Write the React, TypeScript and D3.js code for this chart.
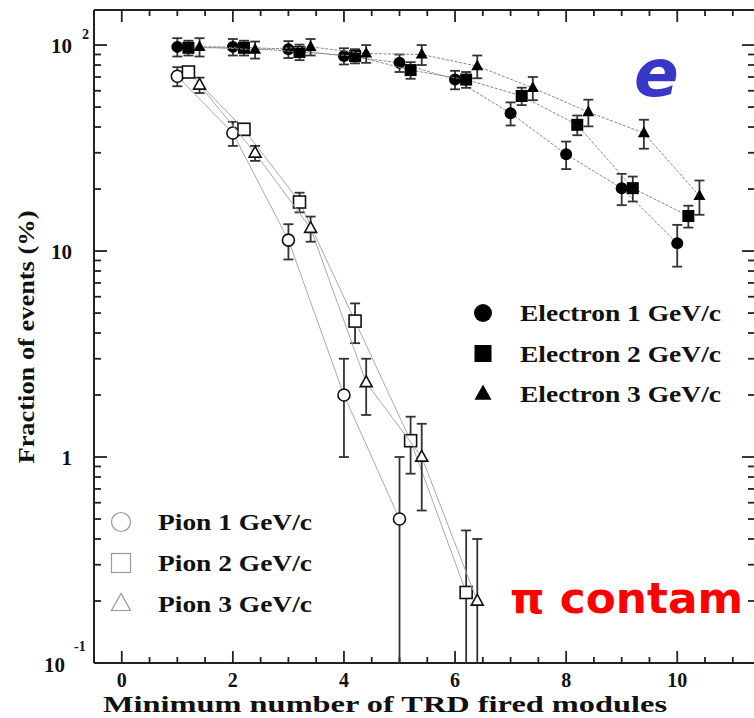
import React from "react";
import * as d3 from "d3";

// ---- data ----
const xElectron1 = [1, 2, 3, 4, 5, 6, 7, 8, 9, 10];
const electron1 = [98, 98, 95.5, 88.5, 82, 68, 46.7, 29.5, 20.2, 10.9];
const electron1Err = [10, 9, 9, 8, 8, 7, 6, 4.5, 3.5, 2.5];
const xElectron2 = [1.2, 2.2, 3.2, 4.2, 5.2, 6.2, 7.2, 8.2, 9.2, 10.2];
const electron2 = [97, 97, 92.5, 88.5, 75.6, 68, 56.6, 41, 20.2, 14.8];
const electron2Err = [8, 8, 8, 7, 7, 6, 5.5, 4.5, 2.8, 1.8];
const xElectron3 = [1.4, 2.4, 3.4, 4.4, 5.4, 6.4, 7.4, 8.4, 9.4, 10.4];
const electron3 = [98, 95, 98, 91, 90, 79, 62, 47.3, 37.4, 18.5];
const electron3Err = [10, 9, 9, 9, 10, 10, 8, 7, 6, 3.5];

const xPion1 = [1, 2, 3, 4, 5];
const pion1 = [70.6, 37.4, 11.3, 2.0, 0.5];
const pion1Err = [7.5, 5, 2.2, 1.0, 0.5];
const xPion2 = [1.2, 2.2, 3.2, 4.2, 5.2, 6.2];
const pion2 = [74, 39, 17.3, 4.57, 1.2, 0.22];
const pion2Err = [3, 2.5, 1.9, 1.0, 0.37, 0.22];
const xPion3 = [1.4, 2.4, 3.4, 4.4, 5.4, 6.4];
const pion3 = [64, 29.9, 12.9, 2.3, 1.0, 0.2];
const pion3Err = [5.5, 2.5, 1.8, 0.7, 0.45, 0.2];

const xTickLabels = [0, 2, 4, 6, 8, 10];
const electronLegend = ["Electron 1 GeV/c", "Electron 2 GeV/c", "Electron 3 GeV/c"];
const pionLegend = ["Pion 1 GeV/c", "Pion 2 GeV/c", "Pion 3 GeV/c"];

const W = 754, H = 718;
const L = 94, R = 755, T = 10, B = 663;
const x = d3.scaleLinear().domain([-0.5, 11.4]).range([L, R]);
const y = d3.scaleLog().domain([0.1, 148]).range([B, T]);

const serif = "'Liberation Serif', 'DejaVu Serif', serif";
const AX = "#222";

type Shape = "circle" | "square" | "triangle";

function Marker({ shape, cx, cy, size, filled, stroke, sw }: any) {
  const fill = filled ? "#000" : "#fff";
  if (shape === "circle")
    return <circle cx={cx} cy={cy} r={size / 2} fill={fill} stroke={stroke} strokeWidth={sw} />;
  if (shape === "square")
    return <rect x={cx - size / 2} y={cy - size / 2} width={size} height={size} fill={fill} stroke={stroke} strokeWidth={sw} />;
  const h = size * 0.9;
  const p = `M${cx},${cy - h * 0.62} L${cx + size / 2},${cy + h * 0.38} L${cx - size / 2},${cy + h * 0.38} Z`;
  return <path d={p} fill={fill} stroke={stroke} strokeWidth={sw} />;
}

function Series({ xs, ys, errs, shape, filled, dashed }: any) {
  const line = d3.line<number>().x((_, i) => x(xs[i])).y((v) => y(v));
  return (
    <g>
      <path d={line(ys) || ""} fill="none" stroke={filled ? "#8a8a8a" : "#aaa"} strokeWidth={1}
        strokeDasharray={dashed ? "3,1.5" : undefined} />
      {ys.map((v: number, i: number) => {
        const cx = x(xs[i]);
        const top = y(v + errs[i]);
        const lo = v - errs[i];
        const bot = lo > 0.1 ? y(lo) : B;
        const cap = 5;
        return (
          <g key={i} stroke="#333" strokeWidth={1.8}>
            <line x1={cx} x2={cx} y1={top} y2={bot} />
            <line x1={cx - cap} x2={cx + cap} y1={top} y2={top} />
            {lo > 0.1 && <line x1={cx - cap} x2={cx + cap} y1={bot} y2={bot} />}
          </g>
        );
      })}
      {ys.map((v: number, i: number) => (
        <Marker key={"m" + i} shape={shape} cx={x(xs[i])} cy={y(v)} size={12}
          filled={filled} stroke="#111" sw={filled ? 0 : 1.6} />
      ))}
    </g>
  );
}

export default function App() {
  const xMinor = d3.range(-0.5, 11.41, 0.5);
  const yMinor: number[] = [];
  [0.1, 1, 10].forEach((d) => { for (let k = 2; k <= 9; k++) yMinor.push(d * k); });
  const yMajor = [0.1, 1, 10, 100];
  return (
    <svg width={W} height={H} style={{ position: "absolute", left: 0, top: 0, background: "#fff" }}>
      <rect x={0} y={0} width={W} height={H} fill="#fff" />
      {/* frame */}
      <g stroke={AX} strokeWidth={2} fill="none">
        <line x1={L} x2={R} y1={B} y2={B} />
        <line x1={L} x2={R} y1={T} y2={T} />
        <line x1={L} x2={L} y1={T} y2={B} />
        <line x1={R} x2={R} y1={T} y2={B} />
      </g>
      {/* x ticks */}
      <g stroke={AX} strokeWidth={1.8}>
        {xMinor.map((t, i) => {
          const major = Math.abs(t % 2) < 1e-6;
          const len = major ? 12 : 6;
          return (
            <g key={i}>
              <line x1={x(t)} x2={x(t)} y1={B} y2={B - len} />
              <line x1={x(t)} x2={x(t)} y1={T} y2={T + len} />
            </g>
          );
        })}
        {yMajor.map((t, i) => (
          <g key={"ym" + i}>
            <line x1={L} x2={L + 13} y1={y(t)} y2={y(t)} />
            <line x1={R} x2={R - 13} y1={y(t)} y2={y(t)} />
          </g>
        ))}
        {yMinor.map((t, i) => (
          <g key={"yn" + i}>
            <line x1={L} x2={L + 7} y1={y(t)} y2={y(t)} />
            <line x1={R} x2={R - 7} y1={y(t)} y2={y(t)} />
          </g>
        ))}
      </g>
      {/* tick labels */}
      <g fontFamily={serif} fontWeight="bold" fill="#111">
        {xTickLabels.map((t) => (
          <text key={t} x={x(t)} y={687} fontSize={20} textAnchor="middle">{t}</text>
        ))}
        <text x={72} y={y(100) + 8} fontSize={21} textAnchor="end">10</text>
        <text x={82} y={y(100) - 6} fontSize={14}>2</text>
        <text x={72} y={y(10) + 8} fontSize={21} textAnchor="end">10</text>
        <text x={72} y={y(1) + 8} fontSize={21} textAnchor="end">1</text>
        <text x={65} y={B + 9} fontSize={21} textAnchor="end">10</text>
        <text x={74} y={B - 12} fontSize={14}>-1</text>
      </g>
      {/* axis titles */}
      <text x={103} y={712} fontFamily={serif} fontWeight="bold" fontSize={24} fill="#111"
        textLength={564} lengthAdjust="spacingAndGlyphs">Minimum number of TRD fired modules</text>
      <text transform="translate(34,337) rotate(-90)" fontFamily={serif} fontWeight="bold" fontSize={24}
        fill="#111" textAnchor="middle" textLength={253} lengthAdjust="spacingAndGlyphs">Fraction of events (%)</text>

      {/* data */}
      <Series xs={xPion1} ys={pion1} errs={pion1Err} shape="circle" filled={false} />
      <Series xs={xPion2} ys={pion2} errs={pion2Err} shape="square" filled={false} />
      <Series xs={xPion3} ys={pion3} errs={pion3Err} shape="triangle" filled={false} />
      <Series xs={xElectron1} ys={electron1} errs={electron1Err} shape="circle" filled dashed />
      <Series xs={xElectron2} ys={electron2} errs={electron2Err} shape="square" filled dashed />
      <Series xs={xElectron3} ys={electron3} errs={electron3Err} shape="triangle" filled dashed />

      {/* electron legend */}
      {electronLegend.map((s, i) => {
        const cy = 313 + i * 40.5;
        const shape: Shape = (["circle", "square", "triangle"] as Shape[])[i];
        return (
          <g key={s}>
            <Marker shape={shape} cx={483} cy={cy} size={i === 0 ? 18 : 17} filled stroke="#000" sw={0} />
            <text x={520} y={cy + 8} fontFamily={serif} fontWeight="bold" fontSize={24} fill="#111"
              textLength={201} lengthAdjust="spacingAndGlyphs">{s}</text>
          </g>
        );
      })}
      {/* pion legend */}
      {pionLegend.map((s, i) => {
        const cy = 522 + i * 41;
        const shape: Shape = (["circle", "square", "triangle"] as Shape[])[i];
        return (
          <g key={s}>
            <Marker shape={shape} cx={121} cy={cy} size={19} filled={false} stroke="#999" sw={1.2} />
            <text x={158} y={cy + 8} fontFamily={serif} fontWeight="bold" fontSize={24} fill="#111"
              textLength={154} lengthAdjust="spacingAndGlyphs">{s}</text>
          </g>
        );
      })}

      {/* annotations */}
      <text x={634} y={96} fontFamily="'DejaVu Sans', sans-serif" fontWeight="bold" fontStyle="italic"
        fontSize={66} fill="#3838c8">e</text>
      <text x={510} y={613} fontFamily="'DejaVu Sans', sans-serif" fontWeight="bold" fontSize={42}
        fill="#ff0000" textLength={233} lengthAdjust="spacingAndGlyphs">π contam</text>
    </svg>
  );
}
